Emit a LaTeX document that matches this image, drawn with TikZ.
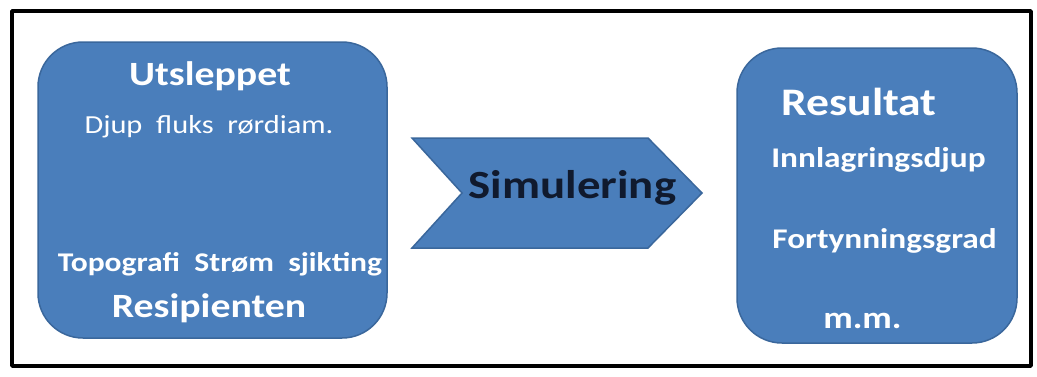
\documentclass[tikz,border=0pt]{standalone}
\usepackage{graphicx}
\usepackage{fontspec}
\setmainfont{Carlito}
\usepackage{tikz}

\definecolor{boxblue}{HTML}{4A7EBB}
\definecolor{boxedge}{HTML}{3A679C}
\definecolor{simtext}{HTML}{101A2E}
\newcommand{\wide}[1]{\scalebox{1.17}[1]{#1}}
\newcommand{\fs}[1]{\fontsize{#1}{#1}\selectfont}

\begin{document}
\begin{tikzpicture}[line cap=round,line join=round,x=1pt,y=-1pt,
  box/.style={draw=boxedge,line width=1.5pt,fill=boxblue,rounded corners=45pt,inner sep=0pt},
  txt/.style={anchor=base,text=white,inner sep=0pt}]
\useasboundingbox (0,0) rectangle (1037,376);
\fill[white] (0,0) rectangle (1037,376);
\draw[line width=3.5pt] (12,11) rectangle (1031,366);
\node[box,minimum width=349pt,minimum height=296pt] (utslepp) at (212.5,190) {};
\node[box,minimum width=280pt,minimum height=295pt] (resultat) at (877,195.5) {};
\draw[draw=boxedge,line width=1.5pt,fill=boxblue,line join=miter] (412,138) -- (648,138) -- (702,193) -- (648,248) -- (412,248) -- (462,193) -- cycle;
% venstre boks
\node[txt] (t1) at (210,85) {\wide{\fs{34}\bfseries Utsleppet}};
\node[txt] (t2) at (209,133) {\wide{\fs{26}Djup\ \ fluks\ \ rørdiam.}};
\node[txt] (t3) at (220,271) {\wide{\fs{27}\bfseries Topografi\ \ Strøm\ \ sjikting}};
\node[txt] (t4) at (209,317) {\wide{\fs{34}\bfseries Resipienten}};
% pil
\node[anchor=base,text=simtext,inner sep=0pt] (sim) at (572.5,198) {\wide{\fs{40}\bfseries Simulering}};
% hoyre boks
\node[txt] (r1) at (859,115) {\wide{\fs{39}\bfseries Resultat}};
\node[txt] (r2) at (878.5,167) {\wide{\fs{28.5}\bfseries Innlagringsdjup}};
\node[txt] (r3) at (884.5,248) {\wide{\fs{28.5}\bfseries Fortynningsgrad}};
\node[txt] (r4) at (862.5,328) {\wide{\fs{31}\bfseries m.m.}};

\end{tikzpicture}
\end{document}
